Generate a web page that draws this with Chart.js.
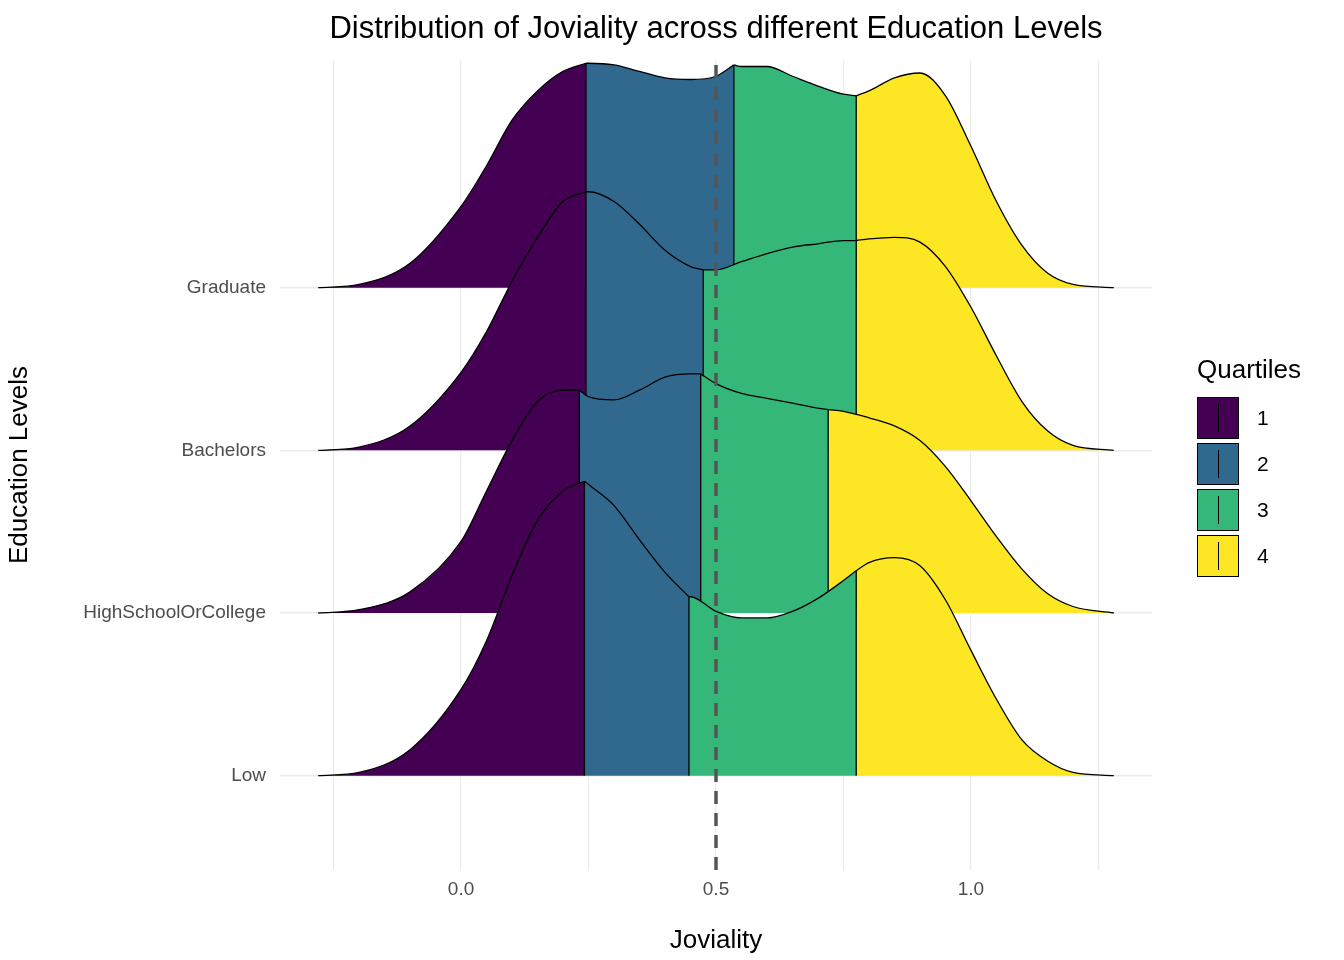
<!DOCTYPE html>
<html>
<head>
<meta charset="utf-8">
<script src="https://cdn.jsdelivr.net/npm/chart.js@4.4.1/dist/chart.umd.min.js"></script>
<style>
  body { margin: 0; background: #fff; font-family: Arial, "Liberation Sans", sans-serif; }
  #wrap { position: relative; width: 1344px; height: 960px; }
  #title { position: absolute; top: 10px; left: 280px; width: 872px; text-align: center; font-size: 31px; color: #000; }
  #legend { position: absolute; left: 1197px; top: 354px; }
  #legend .head { font-size: 26px; margin-bottom: 10px; }
  .key { display: flex; align-items: center; height: 46px; }
  .box { width: 40px; height: 40px; border: 1px solid #000; position: relative; }
  .box::after { content: ''; position: absolute; left: 20px; top: 6px; width: 1px; height: 28px; background: #000; }
  .key span { margin-left: 18px; font-size: 21px; }
</style>
</head>
<body>
<div id="wrap">
  <div id="title">Distribution of Joviality across different Education Levels</div>
  <canvas id="c" width="1344" height="960"></canvas>
  <div id="legend"><div class="head">Quartiles</div></div>
</div>
<script>
// categories (bottom to top)
const levels = ['Low', 'HighSchoolOrCollege', 'Bachelors', 'Graduate'];
const quartileLabels = ['1', '2', '3', '4'];
const quartileColors = ['#440154', '#31688E', '#35B779', '#FDE725'];

// density curves: x positions and ridge heights (in row units), quartile points included
const lowX = [-0.28,-0.2,-0.1,0,0.05,0.1,0.15,0.2,0.242,0.25,0.3,0.35,0.4,0.447,0.45,0.5,0.55,0.6,0.65,0.7,0.75,0.775,0.8,0.85,0.9,0.95,1.0,1.05,1.1,1.15,1.2,1.28];
const lowH = [0,0.02,0.16,0.53,0.83,1.23,1.57,1.75,1.81,1.79,1.66,1.45,1.25,1.10,1.10,1.01,0.97,0.97,1.01,1.09,1.20,1.26,1.31,1.34,1.29,1.08,0.77,0.47,0.22,0.09,0.02,0];
const hsX = [-0.28,-0.2,-0.1,0,0.05,0.1,0.15,0.2,0.232,0.25,0.3,0.35,0.4,0.45,0.47,0.5,0.55,0.6,0.65,0.7,0.72,0.75,0.8,0.85,0.9,0.95,1.0,1.05,1.1,1.15,1.2,1.28];
const hsH = [0,0.02,0.13,0.44,0.75,1.06,1.30,1.37,1.37,1.33,1.31,1.37,1.45,1.47,1.47,1.41,1.35,1.32,1.29,1.26,1.25,1.24,1.20,1.15,1.06,0.90,0.69,0.47,0.27,0.12,0.04,0];
const bachX = [-0.28,-0.2,-0.1,0,0.05,0.1,0.15,0.2,0.245,0.25,0.3,0.35,0.4,0.45,0.475,0.5,0.55,0.6,0.65,0.7,0.75,0.775,0.8,0.85,0.9,0.95,1.0,1.05,1.1,1.15,1.2,1.28];
const bachH = [0,0.02,0.15,0.48,0.73,1.04,1.31,1.53,1.59,1.59,1.53,1.39,1.23,1.13,1.11,1.11,1.16,1.21,1.25,1.27,1.29,1.29,1.30,1.31,1.28,1.13,0.88,0.58,0.30,0.12,0.03,0];
const gradX = [-0.28,-0.2,-0.1,0,0.05,0.1,0.15,0.2,0.245,0.25,0.3,0.35,0.4,0.45,0.5,0.535,0.55,0.6,0.65,0.7,0.75,0.775,0.8,0.85,0.9,0.95,1.0,1.05,1.1,1.15,1.2,1.28];
const gradH = [0,0.02,0.15,0.50,0.75,1.03,1.21,1.33,1.38,1.38,1.37,1.33,1.29,1.28,1.30,1.37,1.36,1.36,1.30,1.24,1.19,1.18,1.21,1.29,1.32,1.18,0.87,0.53,0.26,0.09,0.02,0];

// quartile boundaries per level
const lowQ = [0.242, 0.447, 0.775];
const hsQ = [0.232, 0.47, 0.72];
const bachQ = [0.245, 0.475, 0.775];
const gradQ = [0.245, 0.535, 0.775];

const meanLine = 0.5;
const xTicks = [0, 0.5, 1.0];

const ridges = [
  { x: lowX, h: lowH, q: lowQ },
  { x: hsX, h: hsH, q: hsQ },
  { x: bachX, h: bachH, q: bachQ },
  { x: gradX, h: gradH, q: gradQ }
];

const legend = document.getElementById('legend');
quartileLabels.forEach((l, i) => {
  const k = document.createElement('div');
  k.className = 'key';
  k.innerHTML = `<div class="box" style="background:${quartileColors[i]}"></div><span>${l}</span>`;
  legend.appendChild(k);
});

const datasets = [];
// dataset 0 drawn on top: put dashed line first, then Low ... Graduate
datasets.push({
  data: [{ x: meanLine, y: 0.42 }, { x: meanLine, y: 5.4 }],
  borderColor: '#555', borderWidth: 3.5, borderDash: [13, 9], pointRadius: 0, fill: false
});
ridges.forEach((r, ri) => {
  const base = ri + 1;
  const pts = r.x.map((x, i) => ({ x: x, y: base + r.h[i] }));
  const cuts = [r.x[0], ...r.q, r.x[r.x.length - 1]];
  const group = [];
  // vertical quartile lines
  r.q.forEach(q => {
    const i = r.x.indexOf(q);
    group.push({
      data: [{ x: q, y: base }, { x: q, y: base + r.h[i] }],
      borderColor: '#000', borderWidth: 1.3, pointRadius: 0, fill: false
    });
  });
  for (let s = 0; s < 4; s++) {
    group.push({
      data: pts.filter(p => p.x >= cuts[s] && p.x <= cuts[s + 1]),
      borderColor: '#000', borderWidth: 1.3, pointRadius: 0,
      backgroundColor: quartileColors[s],
      fill: { value: base },
      tension: 0.4, cubicInterpolationMode: 'monotone'
    });
  }
  datasets.push(...group);
});

new Chart(document.getElementById('c'), {
  type: 'line',
  data: { datasets },
  options: {
    responsive: false,
    animation: false,
    layout: { padding: { top: 60, right: 192, bottom: 0, left: 0 } },
    plugins: { legend: { display: false }, tooltip: { enabled: false } },
    scales: {
      x: {
        type: 'linear', min: -0.355, max: 1.355,
        afterBuildTicks: ax => { ax.ticks = [-0.25, 0, 0.25, 0.5, 0.75, 1, 1.25].map(v => ({ value: v })); },
        afterFit: ax => { ax.height = 90; },
        ticks: {
          color: '#4d4d4d', font: { size: 19 }, padding: 8,
          callback: v => xTicks.includes(v) ? v.toFixed(1) : ''
        },
        grid: { color: '#ebebeb', lineWidth: 1.2, drawTicks: false },
        border: { display: false },
        title: { display: true, text: 'Joviality', color: '#000', font: { size: 26 }, padding: { top: 4 } }
      },
      y: {
        type: 'linear', min: 0.42, max: 5.4,
        afterBuildTicks: ax => { ax.ticks = [1, 2, 3, 4].map(v => ({ value: v })); },
        afterFit: ax => { ax.width = 280; },
        ticks: { color: '#4d4d4d', font: { size: 19 }, padding: 14, callback: v => levels[v - 1] },
        grid: { color: '#ebebeb', lineWidth: 1.5, drawTicks: false },
        border: { display: false },
        title: { display: true, text: 'Education Levels', color: '#000', font: { size: 26 }, padding: { bottom: 4 } }
      }
    }
  }
});
</script>
</body>
</html>
